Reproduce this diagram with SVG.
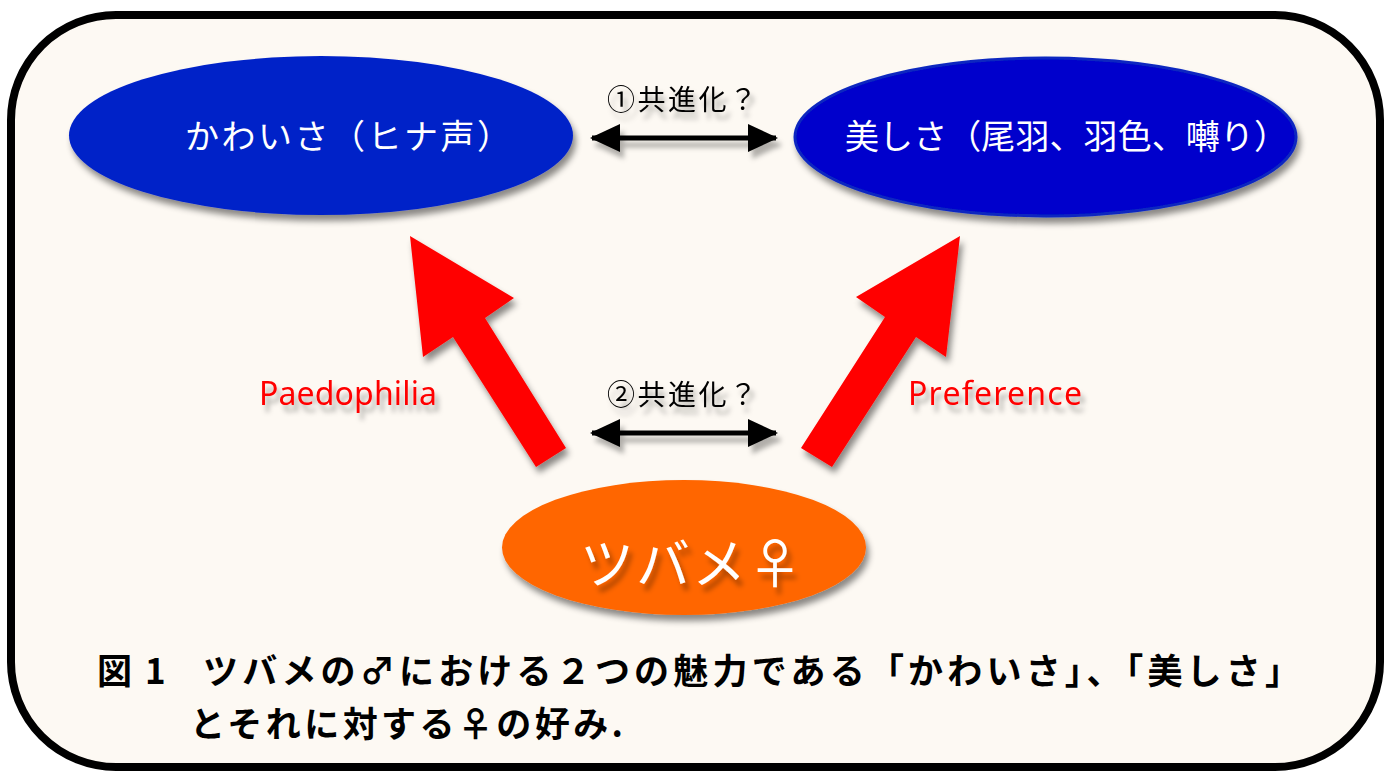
<svg xmlns="http://www.w3.org/2000/svg" width="1394" height="773" viewBox="0 0 1394 773">
<style>
.lab{font-family:"Noto Sans CJK JP","Noto Sans",sans-serif;font-size:28px;fill:#000}
.red{font-family:"Noto Sans","Liberation Sans",sans-serif;font-size:32px;fill:#ff0000}
.node{font-family:"Noto Sans CJK JP",sans-serif;fill:#fff}
.cap{font-family:"Noto Sans CJK JP",sans-serif;font-size:35px;font-weight:bold;fill:#000}
.dbl{stroke:#000;stroke-width:5;fill:none}
</style>
<defs>
<filter id="sh" x="-20%" y="-20%" width="140%" height="150%">
<feDropShadow dx="3" dy="6" stdDeviation="3" flood-color="#000" flood-opacity="0.45"/>
</filter>
<filter id="tsh" x="-20%" y="-40%" width="140%" height="200%">
<feDropShadow dx="4" dy="7" stdDeviation="2.5" flood-color="#000" flood-opacity="0.3"/>
</filter>
<marker id="ah" viewBox="0 0 30 28" refX="28" refY="14" markerWidth="30" markerHeight="28" markerUnits="userSpaceOnUse" orient="auto-start-reverse">
<path d="M0,0 L30,14 L0,28 Z" fill="#000"/>
</marker>
</defs>
<rect width="1394" height="773" fill="#fff"/>
<rect x="11" y="15" width="1369" height="752" rx="105" ry="105" fill="#fdf9f3" stroke="#000" stroke-width="8"/>

<g id="connectors">
<g filter="url(#tsh)">
<line class="dbl" x1="592" y1="138" x2="776" y2="138" marker-start="url(#ah)" marker-end="url(#ah)"/>
<line class="dbl" x1="592" y1="433" x2="776" y2="433" marker-start="url(#ah)" marker-end="url(#ah)"/>
</g>
<text class="lab" x="607" y="110" textLength="150" filter="url(#tsh)">①共進化？</text>
<text class="lab" x="607" y="405" textLength="150" filter="url(#tsh)">②共進化？</text>
<g filter="url(#sh)" fill="#ff0000">
<path d="M410,236 L514,298 L485,318 L566,448 L536,467 L453,337 L423,357 Z"/>
<path d="M960,236 L946,357 L916,337 L832,467 L801,448 L885,317 L856,297 Z"/>
</g>
<text class="red" x="259" y="405" textLength="178" filter="url(#tsh)">Paedophilia</text>
<text class="red" x="908" y="405" textLength="174" filter="url(#tsh)">Preference</text>
</g>

<g id="node-kawaisa">
<ellipse cx="321" cy="135.5" rx="252" ry="79.5" fill="#0222c8" filter="url(#sh)"/>
<text class="node" x="185" y="149" font-size="34" textLength="326">かわいさ（ヒナ声）</text>
</g>
<g id="node-utsukushisa">
<ellipse cx="1045.5" cy="137" rx="250.5" ry="79" fill="#0000cc" stroke="#0a28c0" stroke-width="3" filter="url(#sh)"/>
<text class="node" x="845" y="149" font-size="34" textLength="443">美しさ（尾羽、羽色、囀り）</text>
</g>
<g id="node-tsubame">
<ellipse cx="684" cy="547.5" rx="182" ry="67.5" fill="#ff6600" filter="url(#sh)"/>
<text class="node" x="580" y="584" font-size="54" textLength="222" filter="url(#tsh)">ツバメ♀</text>
</g>

<g id="caption">
<text class="cap" x="97" y="684">図<tspan x="145">1</tspan></text>
<text class="cap" x="203" y="684" textLength="1097">ツバメの♂における２つの魅力である「かわいさ」、「美しさ」</text>
<text class="cap" x="190" y="737" textLength="433">とそれに対する♀の好み.</text>
</g>
</svg>
